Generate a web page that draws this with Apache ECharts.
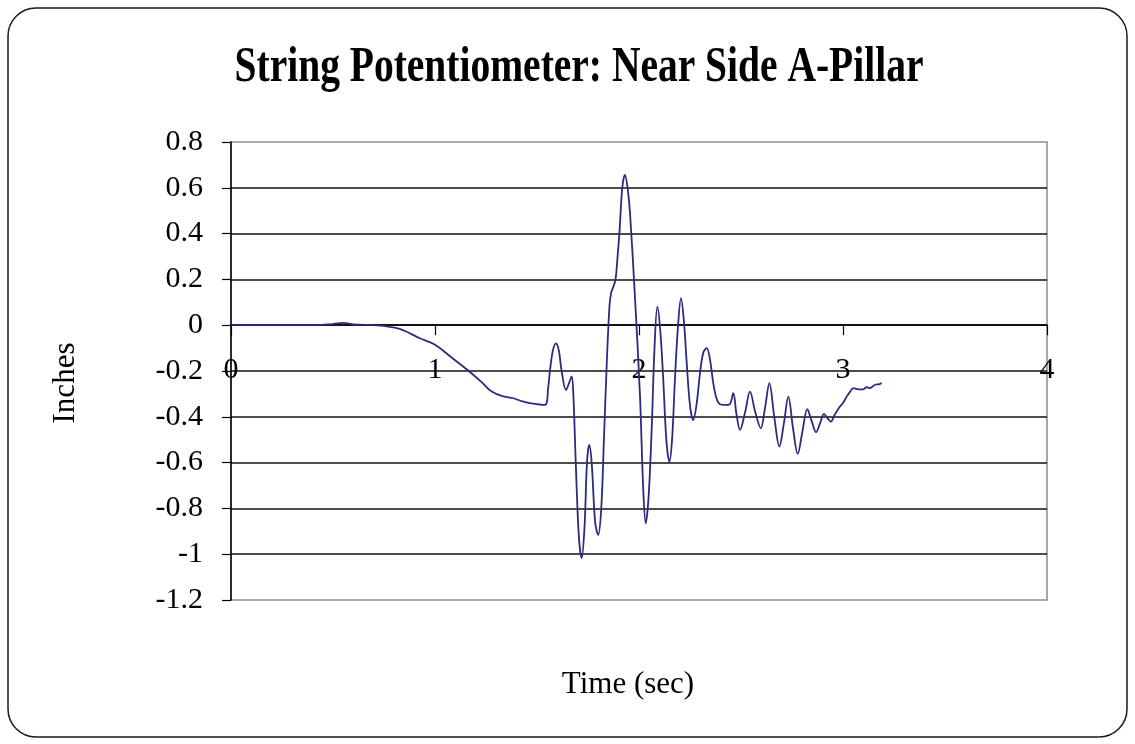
<!DOCTYPE html>
<html>
<head>
<meta charset="utf-8">
<title>String Potentiometer: Near Side A-Pillar</title>
<script src="https://cdn.jsdelivr.net/npm/echarts@6/dist/echarts.min.js"></script>
<style>
  html, body { margin: 0; padding: 0; background: #ffffff; }
  #chart { width: 1135px; height: 744px; }
</style>
</head>
<body>
<div id="chart"></div>
<script>
// Chart text
const chartTitle = 'String Potentiometer: Near Side A-Pillar';
const xAxisTitle = 'Time (sec)';
const yAxisTitle = 'Inches';

// Axis ranges and tick spacing
const xTicks = [0, 1, 2, 3, 4];
const yTicks = [-1.2, -1, -0.8, -0.6, -0.4, -0.2, 0, 0.2, 0.4, 0.6, 0.8];

// String potentiometer trace: time (s) and displacement (in)
const timeSec = [
  0, 0.1, 0.2, 0.3, 0.4, 0.5, 0.55, 0.6, 0.7, 0.75,
  0.83, 0.926, 1.0, 1.08, 1.17, 1.23, 1.278, 1.33, 1.384, 1.43,
  1.464, 1.539, 1.555, 1.564, 1.578, 1.593, 1.607, 1.62, 1.642, 1.66,
  1.67, 1.678, 1.69, 1.705, 1.719, 1.733, 1.745, 1.756, 1.768, 1.785,
  1.80, 1.815, 1.828, 1.842, 1.855, 1.863, 1.875, 1.885, 1.895, 1.905,
  1.918, 1.931, 1.944, 1.956, 1.98, 2.005, 2.02, 2.033, 2.047, 2.062,
  2.076, 2.09, 2.104, 2.119, 2.134, 2.149, 2.162, 2.176, 2.19, 2.206,
  2.22, 2.234, 2.25, 2.266, 2.283, 2.299, 2.315, 2.332, 2.348, 2.364,
  2.38, 2.397, 2.42, 2.445, 2.462, 2.478, 2.495, 2.52, 2.544, 2.57,
  2.597, 2.618, 2.639, 2.663, 2.688, 2.71, 2.732, 2.755, 2.778, 2.80,
  2.825, 2.847, 2.868, 2.887, 2.907, 2.923, 2.94, 2.96, 2.985, 3.0,
  3.018, 3.035, 3.05, 3.075, 3.1, 3.115, 3.132, 3.157, 3.175, 3.19
];
const inches = [
  0, 0, 0, 0, 0, 0.005, 0.01, 0.003, 0, -0.003,
  -0.017, -0.057, -0.085, -0.14, -0.203, -0.25, -0.29, -0.31, -0.319, -0.333,
  -0.34, -0.348, -0.27, -0.195, -0.11, -0.079, -0.11, -0.195, -0.283, -0.245,
  -0.224, -0.3, -0.6, -0.92, -1.017, -0.88, -0.6, -0.523, -0.6, -0.86,
  -0.916, -0.8, -0.5, -0.166, 0.08, 0.14, 0.17, 0.2, 0.3, 0.416,
  0.6, 0.656, 0.6, 0.489, 0.125, -0.31, -0.7, -0.865, -0.75, -0.457,
  -0.1, 0.081, -0.02, -0.239, -0.5, -0.596, -0.5, -0.239, -0.02, 0.118,
  0.02, -0.166, -0.35, -0.414, -0.34, -0.21, -0.12, -0.1, -0.15, -0.253,
  -0.32, -0.345, -0.348, -0.345, -0.297, -0.39, -0.457, -0.38, -0.29, -0.38,
  -0.45, -0.36, -0.253, -0.4, -0.53, -0.43, -0.312, -0.45, -0.562, -0.47,
  -0.367, -0.42, -0.467, -0.43, -0.387, -0.405, -0.421, -0.39, -0.355, -0.34,
  -0.312, -0.29, -0.275, -0.28, -0.28, -0.27, -0.275, -0.26, -0.258, -0.253
];

const serif = "'Liberation Serif', 'Times New Roman', serif";
const trace = timeSec.map((t, i) => [t, inches[i]]);

// Plot box inside the 1135x744 canvas
const gridBox = { left: 231, right: 88, top: 142, bottom: 144 };
const plotHeight = 744 - gridBox.top - gridBox.bottom;
const yMin = yTicks[0];
const yMax = yTicks[yTicks.length - 1];
// The time axis crosses the value axis at 0, so lift it from the plot bottom
const xAxisLift = -plotHeight * (0 - yMin) / (yMax - yMin);

const chart = echarts.init(document.getElementById('chart'), null, { renderer: 'canvas' });

chart.setOption({
  backgroundColor: '#ffffff',
  animation: false,
  textStyle: { fontFamily: serif, color: '#000' },
  graphic: [
    {
      type: 'rect',
      shape: { x: 8, y: 8, width: 1119, height: 729, r: 28 },
      style: { fill: 'none', stroke: '#1a1a1a', lineWidth: 1.5 },
      silent: true
    },
    {
      type: 'text',
      x: 579,
      y: 68,
      scaleX: 0.79,
      style: {
        text: chartTitle,
        font: "bold 50px " + serif,
        fill: '#000',
        textAlign: 'center',
        textVerticalAlign: 'middle'
      },
      silent: true
    }
  ],
  grid: {
    left: gridBox.left,
    right: gridBox.right,
    top: gridBox.top,
    bottom: gridBox.bottom,
    containLabel: false,
    outerBoundsMode: 'none',
    show: true,
    borderColor: '#8c8c8c',
    borderWidth: 1.5,
    backgroundColor: 'transparent'
  },
  xAxis: {
    type: 'value',
    position: 'bottom',
    offset: xAxisLift,
    min: xTicks[0],
    max: xTicks[xTicks.length - 1],
    interval: 1,
    name: xAxisTitle,
    nameLocation: 'middle',
    nameGap: 344,
    nameTextStyle: { fontFamily: serif, fontSize: 31, color: '#000', padding: [0, 22, 0, 0] },
    axisLine: { show: true, onZero: false, lineStyle: { color: '#000', width: 1.5 } },
    axisTick: { show: true, length: 10, inside: false, lineStyle: { color: '#000', width: 1.2 } },
    axisLabel: {
      fontFamily: serif, fontSize: 30, color: '#000', margin: 30,
      showMinLabel: true, showMaxLabel: true, hideOverlap: false
    },
    splitLine: { show: false }
  },
  yAxis: {
    type: 'value',
    min: yMin,
    max: yMax,
    interval: 0.2,
    name: yAxisTitle,
    nameLocation: 'middle',
    nameGap: 150,
    nameRotate: 90,
    nameTextStyle: { fontFamily: serif, fontSize: 31, color: '#000', padding: [0, 24, 0, 0] },
    axisLine: { show: true, onZero: false, lineStyle: { color: '#000', width: 1.5 } },
    axisTick: { show: true, length: 9, inside: false, lineStyle: { color: '#000', width: 1.2 } },
    axisLabel: {
      fontFamily: serif,
      fontSize: 30,
      color: '#000',
      margin: 28,
      showMinLabel: true,
      showMaxLabel: true,
      hideOverlap: false,
      formatter: v => String(Number(v.toFixed(1)))
    },
    splitLine: {
      show: true,
      showMinLine: false,
      showMaxLine: false,
      lineStyle: { color: '#111', width: 1.5 }
    }
  },
  series: [
    {
      type: 'line',
      name: 'Near Side A-Pillar',
      data: trace,
      showSymbol: false,
      smooth: 0.35,
      lineStyle: { color: '#2b2b7e', width: 1.8 },
      z: 3
    }
  ]
});
</script>
</body>
</html>
